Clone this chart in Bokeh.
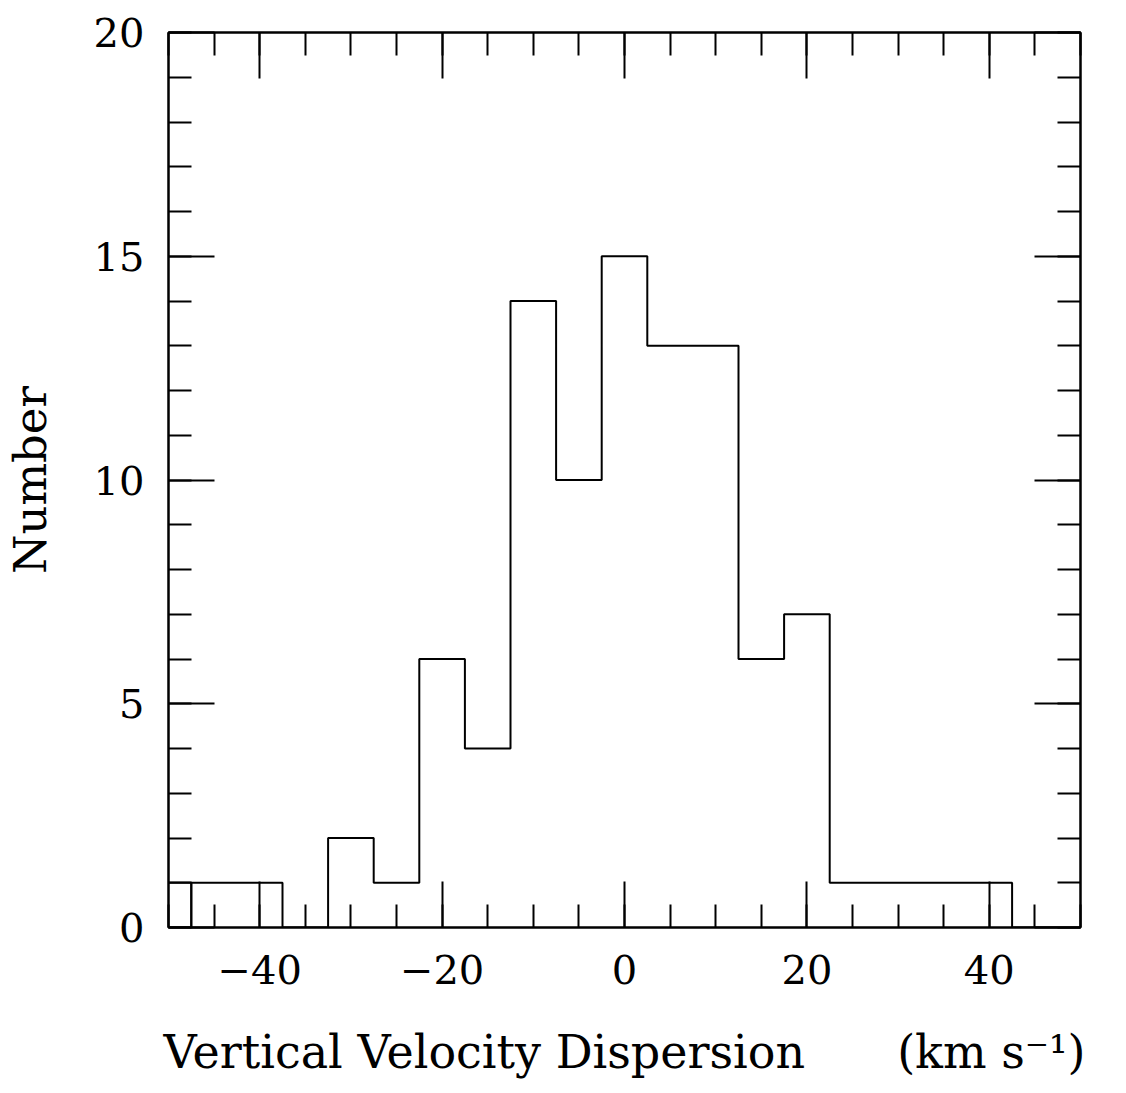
from bokeh.plotting import figure
from bokeh.models import LinearAxis, FixedTicker, Range1d
from bokeh.embed import file_html
from bokeh.resources import INLINE

# ---- data ----
bin_centers = [-50, -45, -40, -35, -30, -25, -20, -15, -10, -5, 0, 5, 10, 15, 20, 25, 30, 35, 40, 45]
counts      = [1,   1,   1,   0,   2,   1,   6,   4,   14,  10, 15, 13, 13, 6,  7,  1,  1,  1,  1,  0]
bin_width = 5

x_major = [-40, -20, 0, 20, 40]
x_tick_labels = ["\u221240", "\u221220", "0", "20", "40"]
x_minor = list(range(-50, 51, 5))
y_major = [0, 5, 10, 15, 20]
y_tick_labels = ["0", "5", "10", "15", "20"]
y_minor = list(range(0, 21, 1))

x_title = "Vertical Velocity Dispersion\u2003\u2003(km s\u207b\u00b9)"
y_title = "Number"

FONT = "DejaVu Serif"

p = figure(width=1126, height=1093, output_backend="svg", toolbar_location=None,
           x_range=Range1d(-50, 50), y_range=Range1d(0, 20),
           x_axis_location=None, y_axis_location=None,
           min_border_left=168, min_border_right=46, min_border_top=32, min_border_bottom=166)
p.grid.visible = False
p.outline_line_color = "black"
p.outline_line_width = 2
p.background_fill_color = "white"
p.border_fill_color = "white"

# histogram: first (clipped) bin as its own box, the rest as a step outline
half = bin_width / 2
p.quad(left=[bin_centers[0] - half], right=[bin_centers[0] + half], bottom=[0], top=[counts[0]],
       fill_color=None, line_color="black", line_width=2)
xs = [bin_centers[1] - half]
ys = [0]
for c, n in zip(bin_centers[1:], counts[1:]):
    xs += [c - half, c + half]
    ys += [n, n]
xs.append(bin_centers[-1] + half)
ys.append(0)
p.line(xs, ys, line_color="black", line_width=2)

def style(ax, show_labels):
    ax.axis_line_color = "black"
    ax.axis_line_width = 2
    ax.major_tick_line_color = "black"
    ax.major_tick_line_width = 2
    ax.minor_tick_line_color = "black"
    ax.minor_tick_line_width = 2
    ax.major_tick_in = 46
    ax.major_tick_out = 0
    ax.minor_tick_in = 23
    ax.minor_tick_out = 0
    ax.major_label_text_font = FONT
    ax.major_label_text_color = "black"
    if show_labels:
        ax.major_label_text_font_size = "40px"
    else:
        ax.major_label_text_font_size = "0px"
        ax.major_label_standoff = 0

xb = LinearAxis(ticker=FixedTicker(ticks=x_major, minor_ticks=x_minor))
style(xb, True)
xb.major_label_overrides = dict(zip(x_major, x_tick_labels))
xb.major_label_standoff = 27
xb.axis_label = x_title
xb.axis_label_text_font = FONT
xb.axis_label_text_font_size = "46px"
xb.axis_label_text_font_style = "normal"
xb.axis_label_text_color = "black"
xb.axis_label_standoff = 38
p.add_layout(xb, "below")

xt = LinearAxis(ticker=FixedTicker(ticks=x_major, minor_ticks=x_minor))
style(xt, False)
p.add_layout(xt, "above")

yl = LinearAxis(ticker=FixedTicker(ticks=y_major, minor_ticks=y_minor))
style(yl, True)
yl.major_label_overrides = dict(zip(y_major, y_tick_labels))
yl.major_label_standoff = 24
yl.axis_label = y_title
yl.axis_label_text_font = FONT
yl.axis_label_text_font_size = "45px"
yl.axis_label_text_font_style = "normal"
yl.axis_label_text_color = "black"
yl.axis_label_standoff = 34
p.add_layout(yl, "left")

yr = LinearAxis(ticker=FixedTicker(ticks=y_major, minor_ticks=y_minor))
style(yr, False)
p.add_layout(yr, "right")

open("out.html", "w").write(file_html(p, INLINE))
